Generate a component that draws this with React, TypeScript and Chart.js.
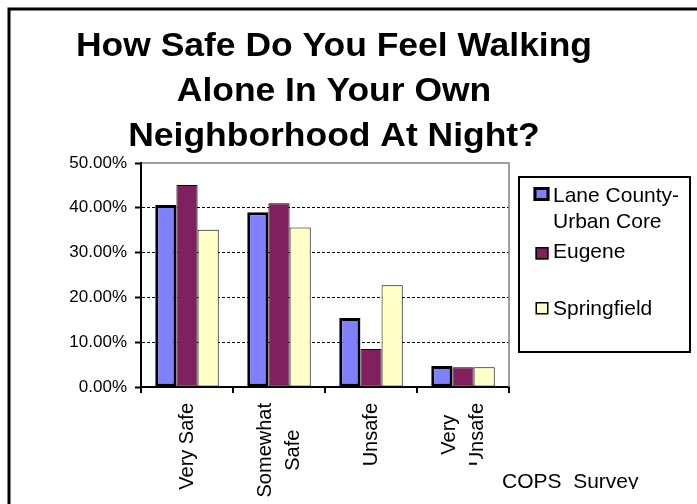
import { useEffect, useRef } from "react";
import { Chart, registerables } from "chart.js";

Chart.register(...registerables);

// ---- data ----
const categoryLines: string[][] = [["Very Safe"], ["Somewhat", "Safe"], ["Unsafe"], ["Very", "Unsafe"]];
const categories = categoryLines.map((l) => l.join(" "));
const seriesNames = ["Lane County-Urban Core", "Eugene", "Springfield"];
const legendLines: string[][] = [["Lane County-", "Urban Core"], ["Eugene"], ["Springfield"]];
const laneValues = [40.6, 39.0, 15.4, 4.7];
const eugeneValues = [45.1, 41.0, 8.5, 4.4];
const springfieldValues = [35.1, 35.6, 22.7, 4.4];
const yMin = 0;
const yMax = 50;
const yStep = 10;
const titleLines = ["How Safe Do You Feel Walking", "Alone In Your Own", "Neighborhood At Night?"];
const footnote = "COPS  Survey";

const seriesColors = ["#8080FF", "#80205F", "#FFFFC8"];
const seriesBorderWidths = [3, 1, 1];
const FONT = "Arial, 'Liberation Sans', Helvetica, sans-serif";

const decorPlugin = {
  id: "decor",
  afterDraw(chart: any) {
    const ctx: CanvasRenderingContext2D = chart.ctx;
    const ca = chart.chartArea;
    const xScale = chart.scales.x;

    // plot frame (top + right, gray)
    ctx.save();
    ctx.strokeStyle = "#808080";
    ctx.lineWidth = 1.5;
    ctx.beginPath();
    ctx.moveTo(ca.left + 1, ca.top);
    ctx.lineTo(ca.right, ca.top);
    ctx.lineTo(ca.right, ca.bottom);
    ctx.stroke();
    ctx.restore();

    // title
    ctx.save();
    ctx.fillStyle = "#000";
    ctx.font = `bold 34px ${FONT}`;
    ctx.textAlign = "center";
    ctx.textBaseline = "alphabetic";
    const w1 = ctx.measureText(titleLines[0]).width;
    const sx = 516 / w1;
    const baselines = [56, 101, 146];
    titleLines.forEach((line, i) => {
      ctx.save();
      ctx.translate(334, baselines[i]);
      ctx.scale(sx, 1);
      ctx.fillText(line, 0, 0);
      ctx.restore();
    });
    ctx.restore();

    // legend
    ctx.save();
    ctx.strokeStyle = "#000";
    ctx.lineWidth = 2;
    ctx.strokeRect(519, 177, 171, 175);
    ctx.font = `21px ${FONT}`;
    ctx.fillStyle = "#000";
    ctx.textAlign = "left";
    ctx.textBaseline = "alphabetic";
    const keyTops = [187, 247, 302];
    const textBaselines = [[202, 228], [258], [315]];
    legendLines.forEach((lines, i) => {
      const bw = seriesBorderWidths[i];
      const size = i === 0 ? 16 : 13;
      const kh = i === 0 ? 14 : 12.5;
      const kx = i === 0 ? 533.5 : 535.5;
      const ky = keyTops[i];
      ctx.fillStyle = seriesColors[i];
      ctx.fillRect(kx, ky, size, kh);
      ctx.lineWidth = bw === 3 ? 3 : 1.5;
      ctx.strokeStyle = "#000";
      const inset = ctx.lineWidth / 2;
      ctx.strokeRect(kx + inset, ky + inset, size - 2 * inset, kh - 2 * inset);
      ctx.fillStyle = "#000";
      lines.forEach((t, j) => ctx.fillText(t, 553, textBaselines[i][j]));
    });
    ctx.restore();

    // x-axis category labels (rotated, lines centered)
    ctx.save();
    ctx.fillStyle = "#000";
    ctx.font = `20px ${FONT}`;
    ctx.textAlign = "left";
    ctx.textBaseline = "alphabetic";
    const topY = 403;
    const lineGap = 28;
    categoryLines.forEach((lines, i) => {
      const cx = xScale.getPixelForValue(i);
      const widths = lines.map((t) => ctx.measureText(t).width);
      const W = Math.max(...widths);
      const blockCenter = topY + W / 2;
      lines.forEach((t, j) => {
        const lineCx = cx + (j - (lines.length - 1) / 2) * lineGap;
        const y0 = blockCenter + widths[j] / 2;
        ctx.save();
        ctx.translate(lineCx + 6, y0);
        ctx.rotate(-Math.PI / 2);
        ctx.fillText(t, 0, 0);
        ctx.restore();
      });
    });
    ctx.restore();

    // footnote text box
    ctx.save();
    ctx.fillStyle = "#fff";
    ctx.fillRect(477, 459, 220, 30);
    ctx.beginPath();
    ctx.rect(477, 459, 220, 30);
    ctx.clip();
    ctx.fillStyle = "#000";
    ctx.font = `21px ${FONT}`;
    ctx.textAlign = "left";
    ctx.textBaseline = "alphabetic";
    ctx.fillText(footnote, 502, 488);
    ctx.restore();

    // outer chart border
    ctx.save();
    ctx.strokeStyle = "#000";
    ctx.lineWidth = 3;
    ctx.strokeRect(9, 9, 800, 800);
    ctx.restore();
  },
};

export default function App() {
  const canvasRef = useRef<HTMLCanvasElement | null>(null);

  useEffect(() => {
    if (!canvasRef.current) return;
    const values = [laneValues, eugeneValues, springfieldValues];
    const chart = new Chart(canvasRef.current, {
      type: "bar",
      data: {
        labels: categories,
        datasets: seriesNames.map((name, i) => ({
          label: name,
          data: values[i],
          backgroundColor: seriesColors[i],
          borderColor: "#000",
          borderWidth: seriesBorderWidths[i],
          borderSkipped: false,
          categoryPercentage: 0.69,
          barPercentage: 1,
        })),
      },
      options: {
        responsive: true,
        maintainAspectRatio: false,
        animation: false,
        events: [],
        layout: { padding: { top: 163, right: 188, left: 0, bottom: 0 } },
        plugins: {
          legend: { display: false },
          title: { display: false },
          tooltip: { enabled: false },
        },
        scales: {
          x: {
            grid: {
              offset: true,
              drawOnChartArea: false,
              drawTicks: true,
              tickLength: 6,
              color: "#000",
              lineWidth: 2,
            },
            border: { display: true, color: "#000", width: 2 },
            ticks: { display: false },
            afterFit: (s: any) => {
              s.height = 117;
            },
          },
          y: {
            min: yMin,
            max: yMax,
            ticks: {
              stepSize: yStep,
              callback: (v: any) => `${Number(v).toFixed(2)}%`,
              font: { family: FONT, size: 17 },
              color: "#000",
              padding: 8,
            },
            grid: {
              color: (c: any) => (c.tick && c.tick.value === yMax ? "rgba(0,0,0,0)" : "#000"),
              lineWidth: 1,
              tickLength: 6,
              tickColor: "#000",
              tickWidth: 2,
              tickBorderDash: [],
            },
            border: { display: true, color: "#000", width: 2, dash: [3, 2] },
            afterFit: (s: any) => {
              s.width = 141;
            },
          },
        },
      },
      plugins: [decorPlugin],
    } as any);
    return () => chart.destroy();
  }, []);

  return (
    <div style={{ position: "absolute", left: 0, top: 0, width: 697, height: 504, background: "#fff" }}>
      <canvas ref={canvasRef} />
    </div>
  );
}
